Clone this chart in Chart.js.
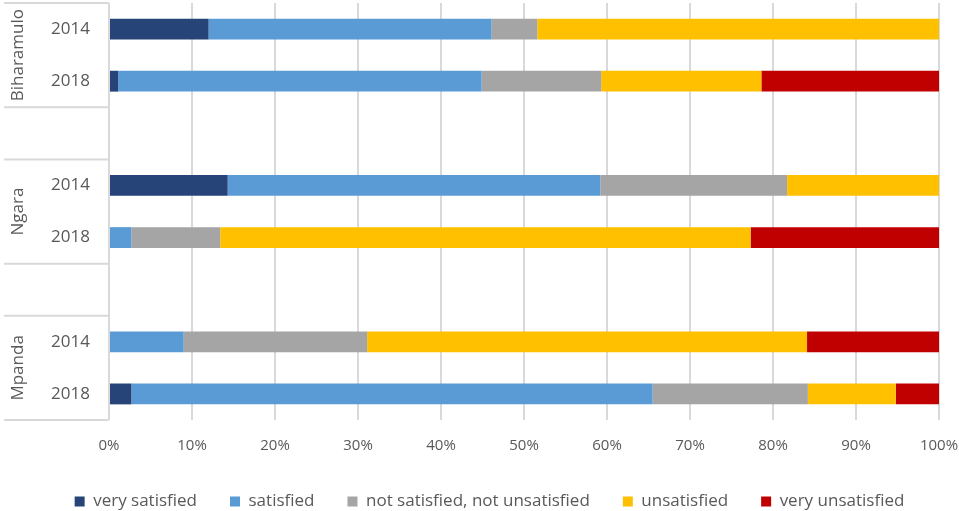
<!DOCTYPE html>
<html>
<head>
<meta charset="utf-8">
<script src="https://cdn.jsdelivr.net/npm/chart.js@4"></script>
<style>
  html, body { margin: 0; padding: 0; background: #fff; }
  #wrap { width: 959px; height: 511px; }
</style>
</head>
<body>
<div id="wrap"><canvas id="satisfactionChart"></canvas></div>
<script>
// Linhas: ano por distrito, com uma linha vazia entre os grupos
const rowLabels = ['2014', '2018', '', '2014', '2018', '', '2014', '2018'];
const districts = [
    { name: 'Biharamulo', first: 0, last: 1 },
    { name: 'Ngara', first: 3, last: 4 },
    { name: 'Mpanda', first: 6, last: 7 }
];
const tickValues = [0, 10, 20, 30, 40, 50, 60, 70, 80, 90, 100];

// Percentuais por categoria de resposta (null = linha vazia)
const verySatisfied    = [12.0, 1.1, null, 14.3, 0,    null, 0,    2.7];
const satisfied        = [34.1, 43.8, null, 44.9, 2.7, null, 9.0,  62.8];
const neutral          = [5.5,  14.4, null, 22.5, 10.7, null, 22.1, 18.7];
const unsatisfied      = [48.4, 19.3, null, 18.3, 63.9, null, 53.0, 10.6];
const veryUnsatisfied  = [0,    21.4, null, 0,    22.7, null, 15.9, 5.2];

const seriesNames = ['very satisfied', 'satisfied', 'not satisfied, not unsatisfied', 'unsatisfied', 'very unsatisfied'];
const seriesColors = ['#264478', '#5B9BD5', '#A5A5A5', '#FFC000', '#C00000'];
const seriesData = [verySatisfied, satisfied, neutral, unsatisfied, veryUnsatisfied];

const textColor = '#595959';
const lineColor = '#D9D9D9';
const fontFamily = "'Open Sans', sans-serif";

// Nomes dos distritos (rotacionados) e linhas separadoras do eixo de categorias
const districtAxisPlugin = {
    id: 'districtAxis',
    afterLayout(chart) {
        // legenda um pouco deslocada para a direita
        chart.legend.left += 20;
        chart.legend.right += 20;
    },
    afterDraw(chart) {
        const ctx = chart.ctx;
        const y = chart.scales.y;
        const area = chart.chartArea;
        ctx.save();
        ctx.strokeStyle = lineColor;
        ctx.lineWidth = 2;
        districts.forEach(d => {
            const top = y.getPixelForValue(d.first - 0.5);
            const bottom = y.getPixelForValue(d.last + 0.5);
            [top, bottom].forEach(py => {
                ctx.beginPath();
                ctx.moveTo(4, py);
                ctx.lineTo(area.left, py);
                ctx.stroke();
            });
            ctx.save();
            ctx.translate(18, (top + bottom) / 2);
            ctx.rotate(-Math.PI / 2);
            ctx.fillStyle = textColor;
            ctx.font = `17px ${fontFamily}`;
            ctx.textAlign = 'center';
            ctx.textBaseline = 'middle';
            ctx.fillText(d.name, 0, 0);
            ctx.restore();
        });
        ctx.restore();
    }
};

new Chart(document.getElementById('satisfactionChart'), {
    type: 'bar',
    data: {
        labels: rowLabels,
        datasets: seriesNames.map((name, i) => ({
            label: name,
            data: seriesData[i],
            backgroundColor: seriesColors[i],
            borderWidth: 0,
            barPercentage: 0.4,
            categoryPercentage: 1
        }))
    },
    options: {
        indexAxis: 'y',
        responsive: true,
        maintainAspectRatio: false,
        animation: false,
        layout: { padding: { top: 3, right: 20, bottom: -9, left: 0 } },
        plugins: {
            tooltip: { enabled: false },
            legend: {
                position: 'bottom',
                labels: {
                    boxWidth: 10,
                    boxHeight: 10,
                    padding: 33,
                    color: textColor,
                    font: { family: fontFamily, size: 17 }
                }
            }
        },
        scales: {
            x: {
                stacked: true,
                min: 0,
                max: 100,
                afterBuildTicks: (scale) => {
                    scale.ticks = tickValues.map(v => ({ value: v }));
                },
                afterFit: (scale) => {
                    scale.height = 40;
                    scale.paddingLeft = 0;
                    scale.paddingRight = 0;
                },
                grid: { color: lineColor, lineWidth: 2, drawTicks: false },
                border: { display: false },
                ticks: {
                    padding: 17,
                    color: textColor,
                    font: { family: fontFamily, size: 15 },
                    callback: (v) => v + '%'
                }
            },
            y: {
                stacked: true,
                afterFit: (scale) => {
                    scale.width = 109;
                    scale.paddingTop = 0;
                    scale.paddingBottom = 0;
                },
                grid: { display: false, drawTicks: false },
                border: { display: false },
                ticks: {
                    padding: 19,
                    color: textColor,
                    font: { family: fontFamily, size: 17 }
                }
            }
        }
    },
    plugins: [districtAxisPlugin]
});
</script>
</body>
</html>
